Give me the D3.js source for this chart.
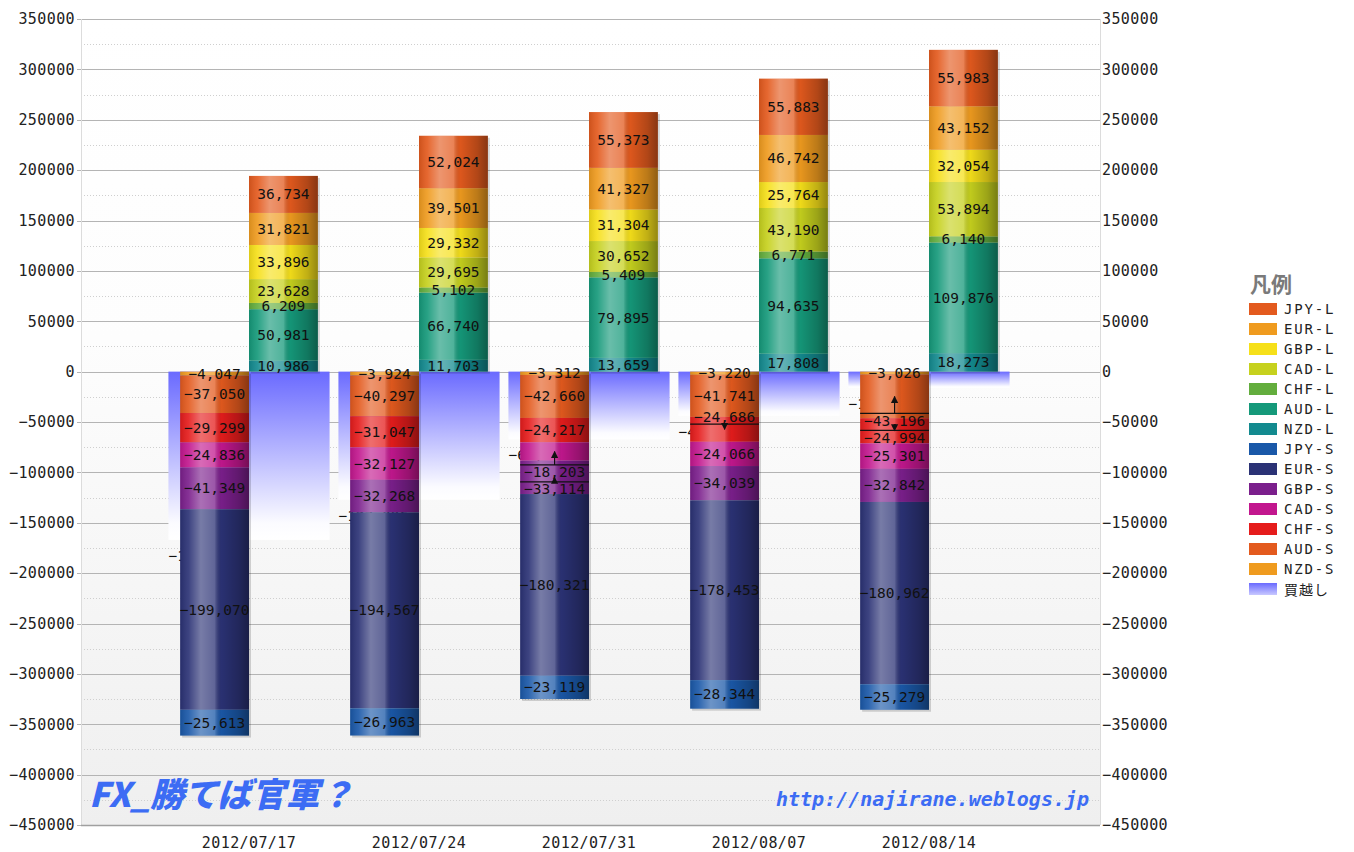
<!DOCTYPE html>
<html><head><meta charset="utf-8">
<script src="https://cdn.jsdelivr.net/npm/d3@7"></script>
<style>body{margin:0;background:#fff}svg{display:block}</style>
</head><body>
<svg id="c" width="1354" height="852"></svg>
<script>
// ---------------- DATA ----------------
const dates = ["2012/07/17","2012/07/24","2012/07/31","2012/08/07","2012/08/14"];
const longKeys  = ["JPY-L","EUR-L","GBP-L","CAD-L","CHF-L","AUD-L","NZD-L"];
const shortKeys = ["JPY-S","EUR-S","GBP-S","CAD-S","CHF-S","AUD-S","NZD-S"];
const netKey = "買越し";

const JPY_L = [36734, 52024, 55373, 55883, 55983];
const EUR_L = [31821, 39501, 41327, 46742, 43152];
const GBP_L = [33896, 29332, 31304, 25764, 32054];
const CAD_L = [23628, 29695, 30652, 43190, 53894];
const CHF_L = [6209, 5102, 5409, 6771, 6140];
const AUD_L = [50981, 66740, 79895, 94635, 109876];
const NZD_L = [10986, 11703, 13659, 17808, 18273];

const JPY_S = [-25613, -26963, -23119, -28344, -25279];
const EUR_S = [-199070, -194567, -180321, -178453, -180962];
const GBP_S = [-41349, -32268, -33114, -34039, -32842];
const CAD_S = [-24836, -32127, -18203, -24066, -25301];
const CHF_S = [-29299, -31047, -24217, -24686, -24994];
const AUD_S = [-37050, -40297, -42660, -41741, -43196];
const NZD_S = [-4047, -3924, -3312, -3220, -3026];

const longValues  = [JPY_L, EUR_L, GBP_L, CAD_L, CHF_L, AUD_L, NZD_L];
const shortValues = [JPY_S, EUR_S, GBP_S, CAD_S, CHF_S, AUD_S, NZD_S];

const yTicks = d3.range(-450000, 350001, 50000);
const yMinor = d3.range(-425000, 350000, 50000);

// colours
const longColors  = ["#e35a1e","#ef9b1f","#f6e01a","#c6d11e","#63ad3d","#15997a","#138a8f"];
const shortColors = ["#1a58a8","#2b3275","#7b1f8c","#c2178e","#e51c1c","#e35a1e","#ef9b1f"];
const netColor = "#6a6aff";

// ---------------- SETUP ----------------
const svg = d3.select("#c");
const plot = {l:81, r:1100, t:19, b:825};
const mono = "'DejaVu Sans Mono', monospace";

const y = d3.scaleLinear().domain([-450000, 350000]).range([plot.b, plot.t]);
const x = d3.scaleBand().domain(dates).range([79, 1099]).paddingOuter(0.5).paddingInner(0);
const bw = x.bandwidth();
const barW = bw * 0.405;
const netHalf = bw * 0.474;
const color = d3.scaleOrdinal().domain(longKeys.concat(shortKeys)).range(longColors.concat(shortColors));
const fmt = d3.format(",");

const rows = dates.map((d, i) => {
  const r = {date: d};
  longKeys.forEach((k, j) => r[k] = longValues[j][i]);
  shortKeys.forEach((k, j) => r[k] = shortValues[j][i]);
  return r;
});
const netVals = rows.map(r => d3.sum(longKeys.concat(shortKeys), k => r[k]));

const stackL = d3.stack().keys(longKeys.slice().reverse())(rows);
const stackS = d3.stack().keys(shortKeys.slice().reverse()).offset(d3.stackOffsetDiverging)(rows);

// ---------------- DEFS ----------------
const defs = svg.append("defs");
const bg = defs.append("linearGradient").attr("id","bg").attr("x1",0).attr("y1",0).attr("x2",0).attr("y2",1);
bg.append("stop").attr("offset","0").attr("stop-color","#ffffff");
bg.append("stop").attr("offset","0.4").attr("stop-color","#fdfdfd");
bg.append("stop").attr("offset","1").attr("stop-color","#efefef");

const ng = defs.append("linearGradient").attr("id","netg").attr("x1",0).attr("y1",0).attr("x2",0).attr("y2",1);
ng.append("stop").attr("offset","0").attr("stop-color",netColor);
ng.append("stop").attr("offset","0.9").attr("stop-color","#fbfbff");
ng.append("stop").attr("offset","1").attr("stop-color","#ffffff");

const lg = defs.append("linearGradient").attr("id","netleg").attr("x1",0).attr("y1",0).attr("x2",0).attr("y2",1);
lg.append("stop").attr("offset","0").attr("stop-color",netColor);
lg.append("stop").attr("offset","1").attr("stop-color","#c8c8ff");

const sh = defs.append("linearGradient").attr("id","shade").attr("x1",0).attr("y1",0).attr("x2",1).attr("y2",0);
[[0,"#000",0.1],[0.12,"#fff",0.08],[0.3,"#fff",0.36],[0.5,"#fff",0.25],[0.6,"#000",0.03],[0.85,"#000",0.22],[1,"#000",0.4]]
  .forEach(s => sh.append("stop").attr("offset",s[0]).attr("stop-color",s[1]).attr("stop-opacity",s[2]));

defs.append("marker").attr("id","arr").attr("viewBox","0 0 10 10").attr("refX",9).attr("refY",5)
  .attr("markerWidth",6).attr("markerHeight",7).attr("orient","auto-start-reverse")
  .append("path").attr("d","M0,0 L10,5 L0,10 z").attr("fill","#111");

// ---------------- BACKGROUND & GRID ----------------
svg.append("rect").attr("x",plot.l).attr("y",plot.t).attr("width",plot.r-plot.l).attr("height",plot.b-plot.t).attr("fill","url(#bg)");

svg.append("g").selectAll("line").data(yMinor).join("line")
  .attr("x1",plot.l).attr("x2",plot.r).attr("y1",d=>Math.round(y(d))+0.5).attr("y2",d=>Math.round(y(d))+0.5)
  .attr("stroke","#cfcfcf").attr("stroke-dasharray","1,2");
svg.append("g").selectAll("line").data(yTicks).join("line")
  .attr("x1",plot.l-4).attr("x2",plot.r).attr("y1",d=>Math.round(y(d))+0.5).attr("y2",d=>Math.round(y(d))+0.5)
  .attr("stroke","#b4b4b4");

// ---------------- NET BARS ----------------
const cx = d => x(d) + bw/2;
const gNet = svg.append("g");
gNet.selectAll("rect").data(dates).join("rect")
  .attr("x", d => cx(d) - netHalf).attr("width", netHalf*2)
  .attr("y", (d,i) => Math.min(y(0), y(netVals[i])))
  .attr("height", (d,i) => Math.abs(y(netVals[i]) - y(0)))
  .attr("fill","url(#netg)");
gNet.selectAll("text").data(dates).join("text")
  .attr("x", d => cx(d) - netHalf)
  .attr("y", (d,i) => y(netVals[i]) + 16)
  .attr("dominant-baseline","central")
  .attr("font-family",mono).attr("font-size",14.5).attr("fill","#111")
  .text((d,i) => fmt(netVals[i]));

// ---------------- STACKED BARS ----------------
const gBars = svg.append("g");
function drawStack(stack, xLeft) {
  dates.forEach((d,i) => {
    const lo = d3.min(stack, l => Math.min(l[i][0], l[i][1]));
    const hi = d3.max(stack, l => Math.max(l[i][0], l[i][1]));
    gBars.append("rect").attr("x", xLeft(d)+2).attr("y", y(hi)+2).attr("width", barW).attr("height", y(lo)-y(hi))
      .attr("fill","#000").attr("opacity",0.16);
  });
  stack.forEach(layer => {
    layer.forEach((seg, i) => {
      const d = dates[i];
      const top = y(Math.max(seg[0], seg[1])), bot = y(Math.min(seg[0], seg[1]));
      gBars.append("rect").attr("x", xLeft(d)).attr("y", top).attr("width", barW).attr("height", bot-top)
        .attr("fill", color(layer.key));
      gBars.append("rect").attr("x", xLeft(d)).attr("y", top).attr("width", barW).attr("height", bot-top)
        .attr("fill", "url(#shade)");
    });
  });
}
const xS = d => cx(d) - barW;
const xL = d => cx(d);
drawStack(stackS, xS);
drawStack(stackL, xL);

// ---------------- SEGMENT LABELS ----------------
const gLab = svg.append("g").attr("font-family",mono).attr("font-size",14.5).attr("fill","#111")
  .attr("text-anchor","middle").attr("dominant-baseline","central");

stackL.forEach(layer => layer.forEach((seg,i) => {
  gLab.append("text").attr("x", xL(dates[i]) + barW/2).attr("y", (y(seg[0])+y(seg[1]))/2)
    .text(fmt(seg.data[layer.key]));
}));

dates.forEach((d,i) => {
  const netY = y(netVals[i]) + 16;
  const labs = stackS.map(layer => {
    const cy = (y(layer[i][0]) + y(layer[i][1]))/2;
    return {cy, y: cy, v: layer[i].data[layer.key], moved: false};
  });
  const gap = 15;
  for (let k = 0; k < labs.length; k++) {
    const L = labs[k];
    if (Math.abs(L.y - netY) < 14) {
      const up = netY - gap;
      const prev = k > 0 ? labs[k-1].y : -1e9;
      if (up - prev >= 16) L.y = up; else L.y = netY + gap + 2;
      L.moved = true;
      for (let j = k+1; j < labs.length; j++) {
        if (labs[j].y - labs[j-1].y < gap) { labs[j].y = labs[j-1].y + gap + 2; labs[j].moved = true; }
      }
    }
  }
  const bx = xS(d);
  labs.forEach(L => {
    gLab.append("text").attr("x", bx + barW/2).attr("y", L.y).text(fmt(L.v));
    if (L.moved && Math.abs(L.y - L.cy) > 3) {
      const edge = L.y > L.cy ? L.y - 7.5 : L.y + 7.5;
      svg.append("line").attr("x1", bx).attr("x2", bx+barW).attr("y1", edge).attr("y2", edge)
        .attr("stroke","#111").attr("stroke-width",1.2);
      svg.append("line").attr("x1", bx+barW/2).attr("x2", bx+barW/2).attr("y1", edge).attr("y2", L.cy)
        .attr("stroke","#111").attr("stroke-width",1.2).attr("marker-end","url(#arr)");
    }
  });
});

// ---------------- AXES ----------------
svg.append("line").attr("x1",plot.l+0.5).attr("x2",plot.l+0.5).attr("y1",plot.t).attr("y2",plot.b).attr("stroke","#dcdcdc");
svg.append("line").attr("x1",plot.r+0.5).attr("x2",plot.r+0.5).attr("y1",plot.t).attr("y2",plot.b).attr("stroke","#dcdcdc");
svg.append("line").attr("x1",plot.l).attr("x2",plot.r).attr("y1",plot.b+0.5).attr("y2",plot.b+0.5).attr("stroke","#a0a0a0").attr("stroke-width",1.5);

const ax = svg.append("g").attr("transform",`translate(${plot.l},0)`)
  .call(d3.axisLeft(y).tickValues(yTicks).tickFormat(d3.format("d")).tickSize(0).tickPadding(6));
ax.select(".domain").remove();
ax.selectAll("text").attr("font-family",mono).attr("font-size",15).attr("fill","#222").attr("letter-spacing","0.4px");

const axr = svg.append("g").attr("transform",`translate(${plot.r},0)`)
  .call(d3.axisRight(y).tickValues(yTicks).tickFormat(d3.format("d")).tickSize(0).tickPadding(2));
axr.select(".domain").remove();
axr.selectAll("text").attr("font-family",mono).attr("font-size",15).attr("fill","#222").attr("letter-spacing","0.4px");

const axb = svg.append("g").attr("transform",`translate(0,${plot.b})`)
  .call(d3.axisBottom(x).tickSize(0).tickPadding(12));
axb.select(".domain").remove();
axb.selectAll("text").attr("font-family",mono).attr("font-size",15).attr("fill","#222").attr("letter-spacing","0.4px");

// ---------------- WATERMARKS ----------------
svg.append("text").attr("transform","translate(89,807) skewX(-14)")
  .attr("font-family","'Noto Sans CJK JP', sans-serif").attr("font-weight",900).attr("font-size",34)
  .attr("fill","#3c6cf4").text("FX_勝てば官軍？");
svg.append("text").attr("x",776).attr("y",806)
  .attr("font-family",mono).attr("font-weight","bold").attr("font-style","italic").attr("font-size",20)
  .attr("fill","#3c6cf4").text("http://najirane.weblogs.jp");

// ---------------- LEGEND ----------------
const leg = svg.append("g").attr("transform","translate(1249,0)");
leg.append("text").attr("x",1).attr("y",292).attr("font-family","'Noto Sans CJK JP', sans-serif")
  .attr("font-weight","bold").attr("font-size",21).attr("fill","#7a7a7a").text("凡例");
const legItems = longKeys.concat(shortKeys, [netKey]);
legItems.forEach((k, i) => {
  const yy = 309 + i*20;
  leg.append("rect").attr("x",0).attr("y",yy-6).attr("width",28).attr("height",12)
    .attr("fill", k === netKey ? "url(#netleg)" : color(k));
  leg.append("text").attr("x",35).attr("y",yy).attr("dominant-baseline","central")
    .attr("font-family", k === netKey ? "'Noto Sans CJK JP', sans-serif" : mono)
    .attr("font-size",14).attr("letter-spacing", k === netKey ? "1px" : "1.8px").attr("fill","#222").text(k);
});
</script>
</body></html>
